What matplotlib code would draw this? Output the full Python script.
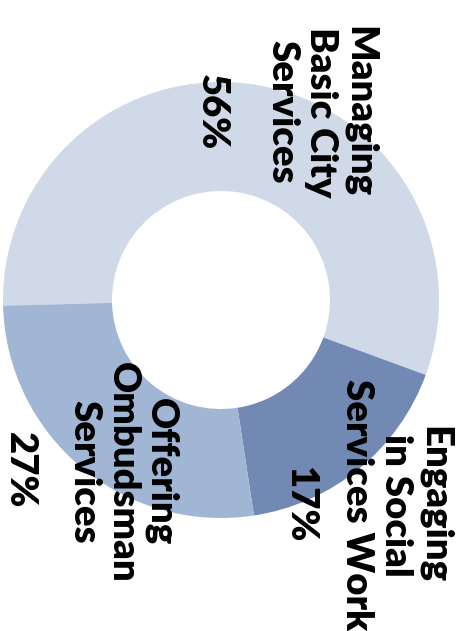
import matplotlib
matplotlib.use("Agg")
import matplotlib.pyplot as plt

labels = ["Managing\nBasic City\nServices", "Engaging\nin Social\nServices Work", "Offering\nOmbudsman\nServices"]
values = [56, 17, 27]
pct_labels = ["56%", "17%", "27%"]
colors = ["#CFD9E7", "#7189B3", "#A1B5D5"]

W, H = 464, 631
fig = plt.figure(figsize=(W / 100, H / 100), dpi=100)
cx, cy, R = 221, 300, 218
ax = fig.add_axes([(cx - R) / W, (H - cy - R) / H, 2 * R / W, 2 * R / H])
ax.pie(values, colors=colors, startangle=181.5, counterclock=False,
       wedgeprops=dict(width=0.5, edgecolor="none"), radius=1)
ax.set_xlim(-1, 1)
ax.set_ylim(-1, 1)
ax.set_aspect("equal")
ax.axis("off")

def px(x, y):
    return (x - cx) / R, (cy - y) / R

font = dict(family="Lato", weight="heavy", fontsize=27.5, color="black",
            rotation=270, ha="center", va="center", multialignment="center",
            linespacing=1.16)
label_pos = [px(321, 112), px(396, 505), px(123, 472)]
pct_pos = [px(212, 112), px(300, 504), px(20, 470)]
for lab, p in zip(labels, label_pos):
    ax.text(p[0], p[1], lab, **font)
for lab, p in zip(pct_labels, pct_pos):
    ax.text(p[0], p[1], lab, **font)

fig.savefig("out.png", dpi=100)
